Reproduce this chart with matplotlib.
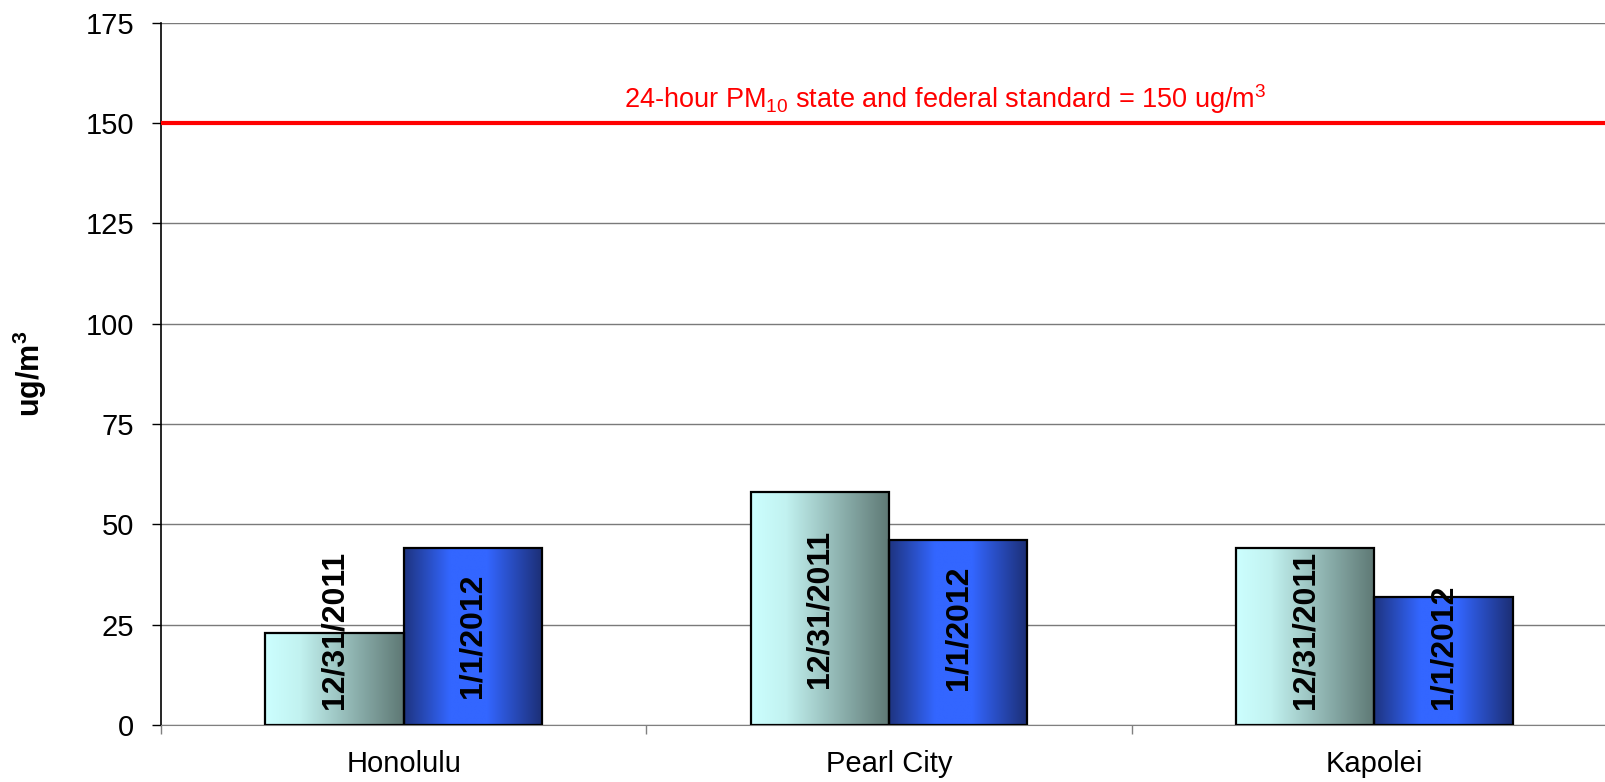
import numpy as np
import matplotlib
matplotlib.use("Agg")
import matplotlib.pyplot as plt
from matplotlib.colors import LinearSegmentedColormap

plt.rcParams['font.family'] = ['Liberation Sans', 'DejaVu Sans']
plt.rcParams['mathtext.fontset'] = 'custom'
plt.rcParams['mathtext.rm'] = 'Liberation Sans'
plt.rcParams['mathtext.it'] = 'Liberation Sans:italic'
plt.rcParams['mathtext.bf'] = 'Liberation Sans:bold'

# data
sites = ['Honolulu', 'Pearl City', 'Kapolei']
dates = ['12/31/2011', '1/1/2012']
pm10_dec31 = [23, 58, 44]
pm10_jan1 = [44, 46, 32]
standard = 150
yticks = [0, 25, 50, 75, 100, 125, 150, 175]

# gradient fills, left -> right
cyan_cm = LinearSegmentedColormap.from_list(
    'cy', [(0, '#CCFFFF'), (0.25, '#C2F2F0'), (1, '#5E7874')])
blue_cm = LinearSegmentedColormap.from_list(
    'bl', [(0, '#1E3480'), (0.33, '#3366FF'), (0.6, '#3366FF'), (1, '#1C2E74')])

fig = plt.figure(figsize=(16.06, 7.82), dpi=100)
ax = fig.add_axes([0.1003, 0.0729, 0.9066, 0.8983])

w = 0.285
x = np.arange(len(sites))
grad = np.linspace(0, 1, 256).reshape(1, -1)

# label centres (y, data units) for the rotated date labels
label_y = [[23.7, 22.2], [28.8, 24.2], [23.7, 19.6]]

for i in range(len(sites)):
    for j, (vals, cm) in enumerate([(pm10_dec31, cyan_cm), (pm10_jan1, blue_cm)]):
        x0 = x[i] - w + j * w
        ax.imshow(grad, cmap=cm, extent=(x0, x0 + w, 0, vals[i]),
                  aspect='auto', zorder=2, interpolation='bilinear')
        ax.bar(x0, vals[i], width=w, align='edge', facecolor='none',
               edgecolor='black', linewidth=1.6, zorder=3)
        ax.text(x0 + w / 2, label_y[i][j], dates[j], rotation=90,
                ha='center', va='center', fontsize=23, fontweight='bold',
                zorder=4)

ax.axhline(standard, color='#FF0000', linewidth=3, zorder=3)
ax.text(1.115, 155.9,
        r'24-hour PM$\mathregular{_{10}}$ state and federal standard = 150 ug/m$\mathregular{^3}$',
        color='#FF0000', fontsize=19.5, ha='center', va='center')

ax.set_xlim(-0.5, 2.5)
ax.set_ylim(0, 175)
ax.set_yticks(yticks)
ax.yaxis.grid(True, color='#7a7a7a', linewidth=1)
ax.set_axisbelow(True)
ax.tick_params(axis='y', labelsize=21, length=6.5, pad=13, width=1)

ax.set_xticks(x)
ax.set_xticklabels(sites)
ax.set_xticks([-0.5, 0.5, 1.5, 2.5], minor=True)
ax.tick_params(axis='x', which='major', length=0, labelsize=21, pad=18)
ax.tick_params(axis='x', which='minor', length=6.5, width=1, color='#808080')

for s in ['top', 'right']:
    ax.spines[s].set_visible(False)
ax.spines['left'].set_linewidth(1.2)
ax.spines['bottom'].set_color('#808080')

ax.set_ylabel(r'ug/m$\mathregular{^3}$', fontsize=22, fontweight='bold')
ax.yaxis.set_label_coords(-0.077, 0.5)

fig.savefig('out.png', dpi=100)
